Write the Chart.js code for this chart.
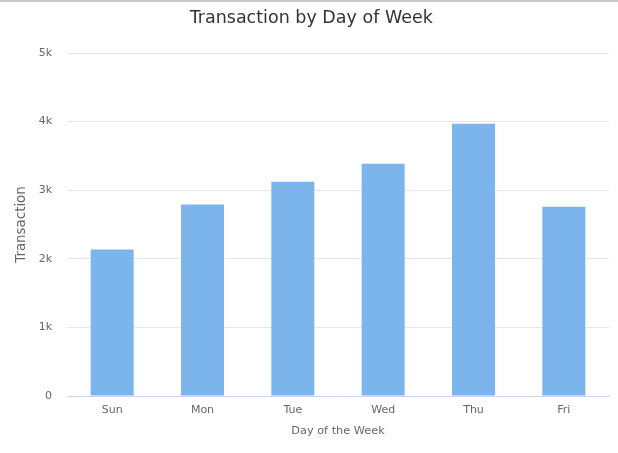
<!DOCTYPE html>
<html>
<head>
<meta charset="utf-8">
<script src="https://cdn.jsdelivr.net/npm/chart.js@4/dist/chart.umd.min.js"></script>
<style>
html,body{margin:0;padding:0;background:#fff;}
#wrap{position:relative;width:618px;height:453px;border-top:2px solid #c8c8c8;box-sizing:border-box;}
canvas{display:block;}
</style>
</head>
<body>
<div id="wrap"><canvas id="c"></canvas></div>
<script>
const categories = ["Sun", "Mon", "Tue", "Wed", "Thu", "Fri"];
const transactions = [2135, 2790, 3125, 3385, 3970, 2760];
const yTicks = [0, 1000, 2000, 3000, 4000, 5000];

const FONT = "'DejaVu Sans', 'Lucida Grande', sans-serif";
new Chart(document.getElementById('c'), {
  type: 'bar',
  data: {
    labels: categories,
    datasets: [{
      label: 'Transaction',
      data: transactions,
      backgroundColor: '#7cb5ec',
      borderWidth: 0,
      barPercentage: 0.8,
      categoryPercentage: 0.595
    }]
  },
  options: {
    responsive: true,
    maintainAspectRatio: false,
    animation: false,
    layout: { padding: { left: 13.5, right: 9, top: 0, bottom: 15.2 } },
    plugins: {
      legend: { display: false },
      tooltip: { enabled: false },
      title: {
        display: true,
        text: 'Transaction by Day of Week',
        color: '#333333',
        font: { family: FONT, size: 17.5, weight: 'normal' },
        padding: { top: 5.5, bottom: 24.5 }
      }
    },
    scales: {
      x: {
        afterFit: (s) => { s.height = 41.8; },
        grid: { display: false, drawTicks: false },
        border: { display: true, color: '#ccd6eb', width: 1 },
        ticks: { color: '#666666', font: { family: FONT, size: 11 }, padding: 7.5 },
        title: { display: true, text: 'Day of the Week', color: '#666666', font: { family: FONT, size: 11.3 }, padding: { top: 0, bottom: 0 } }
      },
      y: {
        min: 0,
        max: 5000,
        afterFit: (s) => { s.width = 53.5; },
        afterBuildTicks: (axis) => { axis.ticks = yTicks.map(v => ({ value: v })); },
        grid: { color: '#e6e6e6', drawTicks: false },
        border: { display: false },
        ticks: {
          color: '#666666',
          font: { family: FONT, size: 11 },
          padding: 15,
          callback: (v) => v === 0 ? '0' : (v / 1000) + 'k'
        },
        title: { display: true, text: 'Transaction', color: '#666666', font: { family: FONT, size: 13.4 }, padding: { top: 0, bottom: 0 } }
      }
    }
  }
});
</script>
</body>
</html>
